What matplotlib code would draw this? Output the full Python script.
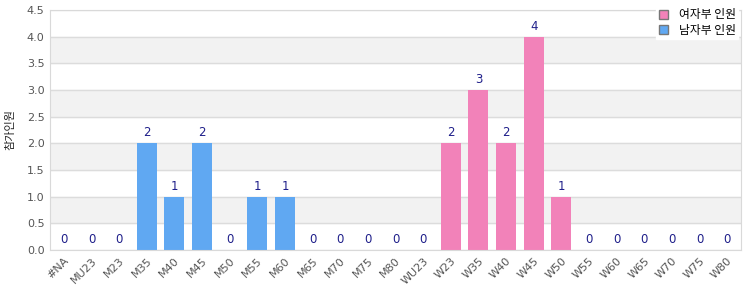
import numpy as np
import matplotlib.pyplot as plt

plt.rcParams['font.family'] = ['Noto Sans CJK KR', 'DejaVu Sans']

categories = ['#NA', 'MU23', 'M23', 'M35', 'M40', 'M45', 'M50', 'M55', 'M60', 'M65',
              'M70', 'M75', 'M80', 'WU23', 'W23', 'W35', 'W40', 'W45', 'W50', 'W55',
              'W60', 'W65', 'W70', 'W75', 'W80']
counts = [0, 0, 0, 2, 1, 2, 0, 1, 1, 0,
          0, 0, 0, 0, 2, 3, 2, 4, 1, 0,
          0, 0, 0, 0, 0]
women_label = '여자부 인원'
men_label = '남자부 인원'
y_label = '참가인원'

blue = '#60a8f2'
pink = '#f282b9'

fig = plt.figure(figsize=(7.5, 3), dpi=100)
ax = fig.add_axes([50 / 750, 50 / 300, 691 / 750, 240 / 300])

x = np.arange(len(categories))
is_women = np.array([c.startswith('W') for c in categories])
vals = np.array(counts)

# light banding between gridlines
for lo in np.arange(0.5, 4.5, 1.0):
    ax.axhspan(lo, lo + 0.5, color='#f2f2f2', zorder=0)
ax.set_yticks(np.arange(0, 4.51, 0.5))
ax.yaxis.grid(True, color='#dcdcdc', linewidth=1, zorder=1)
ax.set_axisbelow(True)

bw = 0.72
ax.bar(x[is_women], vals[is_women], bw, color=pink, label=women_label, zorder=2)
ax.bar(x[~is_women], vals[~is_women], bw, color=blue, label=men_label, zorder=2)

for xi, v in zip(x, counts):
    ax.annotate(str(v), (xi, v), xytext=(0, 3), textcoords='offset points',
                ha='center', va='bottom', fontsize=8.5, color='#1f1f8a',
                family='DejaVu Sans')

ax.set_xlim(-0.5, len(categories) - 0.5)
ax.set_ylim(0, 4.5)
ax.set_xticks(x)
ax.set_xticklabels(categories, rotation=45, ha='right', rotation_mode='anchor',
                   fontsize=8, color='#555555', family='DejaVu Sans')
ax.set_yticklabels(['%.1f' % t for t in np.arange(0, 4.51, 0.5)],
                   fontsize=8, color='#555555', family='DejaVu Sans')
ax.tick_params(length=0, pad=4)
for s in ax.spines.values():
    s.set_color('#d9d9d9')
ax.set_ylabel(y_label, fontsize=8, color='#222222', labelpad=8)

leg = fig.legend(loc='upper right', bbox_to_anchor=(744 / 750, 1.0), fontsize=8.5,
                 frameon=True, handlelength=0.8, handleheight=0.8, borderpad=0.2,
                 labelspacing=0.2, handletextpad=0.9, fancybox=False)
leg.get_frame().set_edgecolor('white')
leg.get_frame().set_alpha(1.0)
for h in leg.legend_handles:
    h.set_edgecolor('#777777')
    h.set_linewidth(1)

fig.savefig('out.png', dpi=100)
